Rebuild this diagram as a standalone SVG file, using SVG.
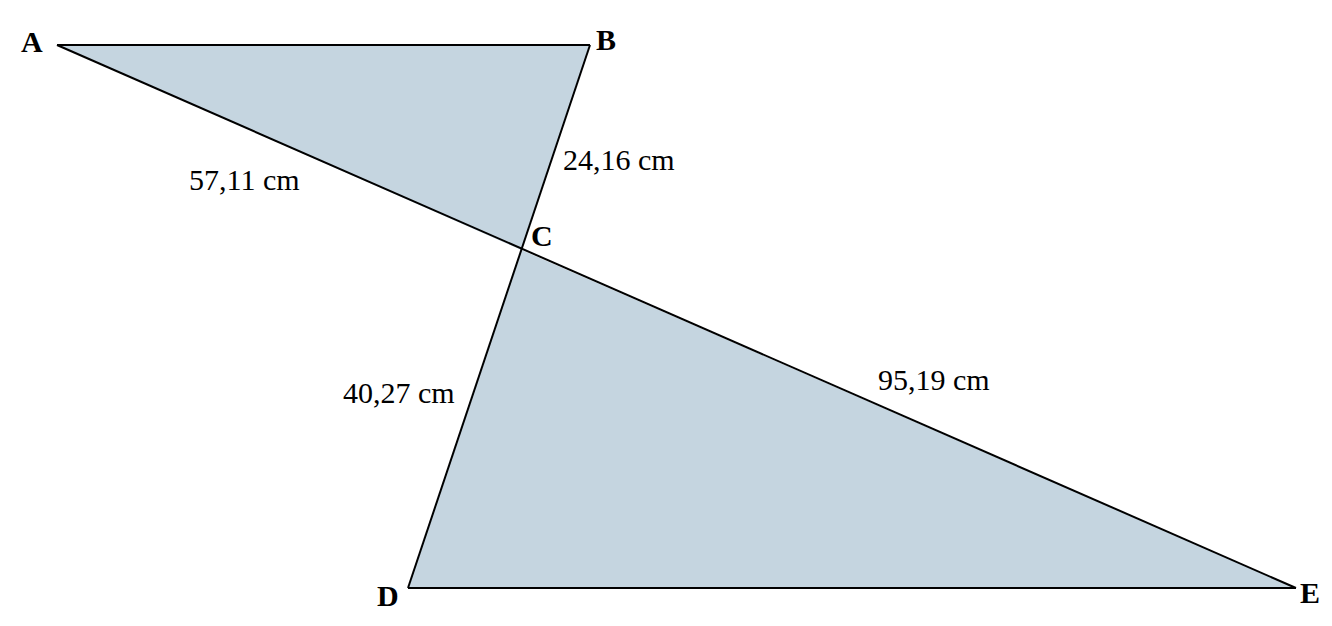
<svg xmlns="http://www.w3.org/2000/svg" width="1332" height="626" viewBox="0 0 1332 626">
<style>
.tri{fill:#c5d5e0;stroke:none}
.edge{stroke:#000;stroke-width:2;fill:none;stroke-linejoin:miter}
.v{font-family:"Liberation Serif",serif;font-weight:bold;font-size:30px;fill:#000}
.m{font-family:"Liberation Serif",serif;font-size:30px;fill:#000}
</style>
<rect width="1332" height="626" fill="#fff"/>
<g id="shapes">
<polygon class="tri" points="57,45 590,45 521.5,250"/>
<polygon class="tri" points="521.5,250 408,588 1296,588"/>
</g>
<g id="connectors">
<line class="edge" x1="57" y1="45" x2="590" y2="45"/>
<line class="edge" x1="590" y1="45" x2="408" y2="588"/>
<line class="edge" x1="57" y1="45" x2="1296" y2="588"/>
<line class="edge" x1="408" y1="588" x2="1296" y2="588"/>
</g>
<g id="A"><text class="v" x="21" y="52">A</text></g>
<g id="B"><text class="v" x="596" y="50">B</text></g>
<g id="C"><text class="v" x="531" y="246">C</text></g>
<g id="D"><text class="v" x="377" y="606">D</text></g>
<g id="E"><text class="v" x="1300" y="603">E</text></g>
<g id="labels">
<text class="m" x="189" y="190">57,11 cm</text>
<text class="m" x="563" y="170">24,16 cm</text>
<text class="m" x="343" y="403">40,27 cm</text>
<text class="m" x="878" y="390">95,19 cm</text>
</g>
</svg>
